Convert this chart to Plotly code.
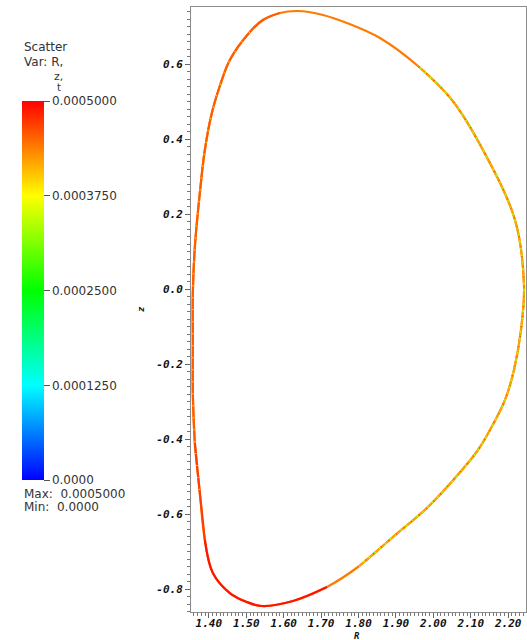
import plotly.graph_objects as go
from plotly.colors import sample_colorscale

# Boundary trace: major radius R, height z, and the scalar t carried by each point
R_PTS = [2.2422, 2.2182, 2.1326, 2.0497, 1.9588, 1.8572, 1.7690, 1.7048, 1.6380, 1.5898,
         1.5444, 1.5096, 1.4561, 1.4294, 1.4080, 1.3893, 1.3759, 1.3626, 1.3572, 1.3572,
         1.3572, 1.3626, 1.3759, 1.3893, 1.4107, 1.4561, 1.5016, 1.5417, 1.6246, 1.7155,
         1.7984, 1.8920, 1.9856, 2.0765, 2.1193, 2.1513, 2.1914, 2.2155, 2.2342, 2.2422]
Z_PTS = [0.0107, 0.1840, 0.3707, 0.5040, 0.5947, 0.6693, 0.7093, 0.7307, 0.7413, 0.7360,
         0.7173, 0.6853, 0.6107, 0.5413, 0.4693, 0.3707, 0.2560, 0.1120, -0.0107, -0.1440,
         -0.2773, -0.4107, -0.5440, -0.6693, -0.7573, -0.8107, -0.8347, -0.8453, -0.8320, -0.7947,
         -0.7413, -0.6613, -0.5813, -0.4827, -0.4293, -0.3760, -0.2960, -0.2160, -0.1093, 0.0107]
T_PTS = [0.00040, 0.00040, 0.00040, 0.00041, 0.00042, 0.00043, 0.00044, 0.00044, 0.00044, 0.00045,
         0.00045, 0.00045, 0.00045, 0.00045, 0.00045, 0.00045, 0.00045, 0.00045, 0.00045, 0.00045,
         0.00046, 0.00047, 0.00047, 0.00048, 0.00049, 0.00049, 0.00049, 0.00049, 0.00048, 0.00044,
         0.00042, 0.00041, 0.00040, 0.00040, 0.00040, 0.00040, 0.00040, 0.00040, 0.00040, 0.00040]

T_MIN, T_MAX = 0.0, 0.0005
CBAR_TICKS = [0.0, 0.000125, 0.00025, 0.000375, 0.0005]
CBAR_TEXT = ["0.0000", "0.0001250", "0.0002500", "0.0003750", "0.0005000"]

R_TICKS = [1.40, 1.50, 1.60, 1.70, 1.80, 1.90, 2.00, 2.10, 2.20]
Z_TICKS = [0.6, 0.4, 0.2, 0.0, -0.2, -0.4, -0.6, -0.8]

HOT = [[0.0, "rgb(0,0,255)"], [0.25, "rgb(0,255,255)"], [0.5, "rgb(0,255,0)"],
       [0.75, "rgb(255,255,0)"], [1.0, "rgb(255,0,0)"]]


def tcolor(t):
    return sample_colorscale(HOT, [(t - T_MIN) / (T_MAX - T_MIN)])[0]


W, H = 527, 640
ML, MR, MT, MB = 191, 1, 7, 28
PW, PH = W - ML - MR, H - MT - MB


def px(x):
    return (x - ML) / PW


def py(y):
    return (H - MB - y) / PH


def run(indices):
    return [R_PTS[i] for i in indices], [Z_PTS[i] for i in indices]


SPL = dict(shape="spline", smoothing=1.0)
fig = go.Figure()


def add_line(xs, zs, color, width, dash=None):
    line = dict(color=color, width=width, **SPL)
    if dash:
        line["dash"] = dash
    fig.add_trace(go.Scatter(x=xs, y=zs, mode="lines", line=line,
                             hoverinfo="skip", showlegend=False))


# continuous base curve in the dominant orange
add_line(R_PTS, Z_PTS, tcolor(0.00044), 2.2)

# warmer bands along the inboard side and lower corner
for lo_t, hi_t, shade in [(0.00045, 0.00046, 0.000455), (0.00047, 0.00047, 0.00047),
                          (0.00048, 0.0005, 0.00049)]:
    idx = [i for i, t in enumerate(T_PTS) if lo_t <= t <= hi_t]
    sx, sz = run(range(idx[0], idx[-1] + 2))
    add_line(sx, sz, tcolor(shade), 2.2)

# cooler outboard stretch: mixed yellow / green points along the curve
n = len(T_PTS)
cool = [i for i in range(n - 1) if T_PTS[i] <= 0.00042]
order = [i for i in cool if i > n // 2] + [i for i in cool if i < n // 2]
cx, cz = run(order)
add_line(cx, cz, tcolor(0.00042), 2.0)
add_line(cx, cz, tcolor(0.00033), 1.8, "2px,5px")
add_line(cx, cz, tcolor(0.00046), 1.8, "1px,9px")

# scattered yellow flecks along the inboard side
ix, iz = run(range(11, 23))
add_line(ix, iz, tcolor(0.00039), 1.4, "1px,11px")

# points carrying the colour scale (drawn transparent, scale shown on the left)
fig.add_trace(go.Scatter(
    x=R_PTS, y=Z_PTS, mode="markers", hoverinfo="skip", showlegend=False,
    marker=dict(size=2, color=T_PTS, cmin=T_MIN, cmax=T_MAX, colorscale=HOT, opacity=0,
                showscale=True,
                colorbar=dict(
                    xref="container", yref="container",
                    x=22 / W, xanchor="left", xpad=0,
                    y=1 - 107 / H, yanchor="top", ypad=0,
                    len=379, lenmode="pixels",
                    thickness=22, thicknessmode="pixels",
                    outlinewidth=0, borderwidth=0,
                    ticks="outside", ticklen=6, tickcolor="#555", tickwidth=1,
                    tickvals=CBAR_TICKS, ticktext=CBAR_TEXT,
                    tickfont=dict(family="DejaVu Sans", size=12, color="#333"),
                ))))

axis_font = dict(family="DejaVu Sans Mono", size=11, color="#111", weight="bold", style="italic")

fig.update_xaxes(range=[1.3523, 2.2476], tickmode="array", tickvals=R_TICKS,
                 ticktext=[f"{v:.2f}" for v in R_TICKS],
                 showline=True, linecolor="#8c8c8c", linewidth=1, mirror=True,
                 ticks="outside", ticklen=5, tickcolor="#666", ticklabelstandoff=-4,
                 minor=dict(dtick=0.01, tick0=1.4, ticks="outside", ticklen=3, tickcolor="#777"),
                 showgrid=False, zeroline=False, tickfont=axis_font)
fig.update_yaxes(range=[-0.8613, 0.752], tickmode="array", tickvals=Z_TICKS,
                 ticktext=[f"{v:.1f}" for v in Z_TICKS],
                 showline=True, linecolor="#8c8c8c", linewidth=1, mirror=True,
                 ticks="outside", ticklen=5, tickcolor="#666",
                 minor=dict(dtick=0.02, tick0=0.0, ticks="outside", ticklen=3, tickcolor="#777"),
                 showgrid=False, zeroline=False, tickfont=axis_font)

legend_font = dict(family="DejaVu Sans", size=12, color="#333")
notes = [
    ("Scatter", 22, 47, "left", 12),
    ("Var: R,", 22, 62, "left", 12),
    ("z,", 58, 77, "center", 11),
    ("t", 59, 88, "center", 10),
    ("Max:  0.0005000", 22, 494, "left", 12),
    ("Min:  0.0000", 22, 507, "left", 12),
]
for txt, x, y, anc, fs in notes:
    fig.add_annotation(text=txt, x=px(x), y=py(y), xref="paper", yref="paper",
                       xanchor=anc, yanchor="middle", showarrow=False,
                       font=dict(legend_font, size=fs))

title_font = dict(family="DejaVu Sans Mono", size=9, color="#111", weight="bold", style="italic")
fig.add_annotation(text="z", x=px(134), y=py(309), xref="paper", yref="paper", textangle=-90,
                   showarrow=False, font=title_font)
fig.add_annotation(text="R", x=px(357), y=py(636), xref="paper", yref="paper",
                   showarrow=False, font=title_font, yanchor="middle")

fig.update_layout(width=W, height=H, margin=dict(l=ML, r=MR, t=MT, b=MB),
                  paper_bgcolor="white", plot_bgcolor="white", showlegend=False)

fig.write_html("out.html")
